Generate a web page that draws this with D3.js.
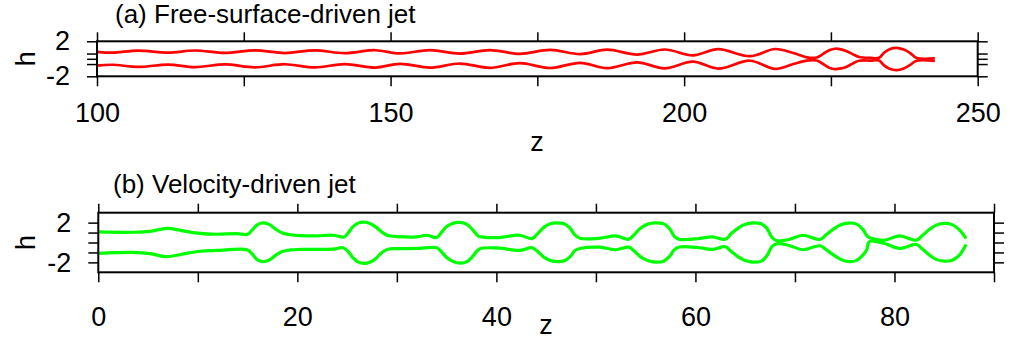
<!DOCTYPE html>
<html lang="en">
<head>
  <meta charset="UTF-8">
  <title>Jet profiles</title>
  <style>
    body { margin: 0; background: #fff; }
    text { font-family: "Liberation Sans", Arial, Helvetica, sans-serif; fill: #000; }
  </style>
</head>
<body>
  <svg id="svg" width="1010" height="343"></svg>

  <script src="https://d3js.org/d3.v7.min.js"></script>
  <script>
    // (a) free-surface-driven jet, [z, h]
    const upperA = [
      [100, 0.80], [102.6, 0.70], [107.0, 0.94], [112.1, 0.70], [116.7, 0.95], [121.8, 0.68],
      [126.9, 0.96], [132.0, 0.66], [137.1, 0.97], [142.2, 0.64], [147.4, 0.98], [151.6, 0.62],
      [156.7, 0.99], [161.8, 0.60], [166.9, 1.00], [172.0, 0.57], [177.2, 1.02], [182.3, 0.53],
      [186.9, 1.04], [192.0, 0.48], [196.7, 1.06], [201.5, 0.40], [205.8, 1.10], [211.2, 0.30],
      [215.5, 1.12], [218.6, 0.66], [220.9, 0.17], [222.6, 0.15], [223.9, 0.66], [224.8, 1.00],
      [225.7, 1.15], [226.7, 1.08], [227.7, 0.86], [228.8, 0.50], [229.8, 0.20], [231.7, 0.10],
      [233.2, 0.12], [234.0, 0.66], [235.0, 1.10], [236.2, 1.25], [237.4, 1.05], [238.5, 0.66],
      [239.6, 0.10], [242.7, 0.05]
    ]
    const lowerA = [
      [100, -0.78], [102.6, -0.68], [107.0, -0.93], [112.1, -0.66], [116.7, -0.95], [121.8, -0.64],
      [126.9, -0.97], [132.0, -0.62], [137.1, -0.98], [142.2, -0.60], [147.4, -1.00], [151.6, -0.57],
      [156.7, -1.01], [161.8, -0.54], [166.9, -1.03], [172.0, -0.50], [177.2, -1.05], [182.3, -0.46],
      [186.9, -1.07], [192.0, -0.41], [196.7, -1.09], [201.5, -0.33], [205.8, -1.12], [211.2, -0.22],
      [215.5, -1.15], [218.6, -0.60], [220.9, -0.20], [222.6, -0.20], [223.9, -0.70], [224.8, -1.05],
      [225.7, -1.18], [226.7, -1.10], [227.7, -0.90], [228.8, -0.50], [229.8, -0.22], [231.7, -0.20],
      [233.2, -0.20], [234.0, -0.72], [235.0, -1.15], [236.2, -1.30], [237.4, -1.10], [238.5, -0.70],
      [239.6, -0.22], [242.7, -0.25]
    ]

    // (b) velocity-driven jet
    const upperB = [
      [0, 1.06], [3.5, 1.03], [5.2, 1.12], [6.9, 1.43], [8.4, 1.20], [10.2, 0.92], [11.9, 0.83],
      [13.9, 0.90], [15.0, 0.82], [15.5, 1.30], [16.0, 1.80], [16.6, 1.97], [17.2, 1.80],
      [17.8, 1.35], [18.5, 0.95], [19.3, 0.78], [20.3, 0.70], [21.9, 0.67], [23.6, 0.73],
      [24.7, 0.55], [25.1, 0.95], [25.6, 1.60], [26.1, 1.95], [26.7, 2.05], [27.3, 1.92],
      [27.9, 1.55], [28.5, 1.05], [29.1, 0.70], [30.0, 0.60], [32.0, 0.57], [33.0, 0.73],
      [34.0, 0.50], [34.5, 1.05], [35.0, 1.60], [35.6, 1.92], [36.3, 2.02], [37.0, 1.85],
      [37.6, 1.30], [38.2, 0.65], [38.8, 0.52], [40.3, 0.50], [42.3, 0.73], [43.6, 0.40],
      [44.2, 0.95], [44.8, 1.55], [45.4, 1.88], [46.1, 1.98], [46.8, 1.88], [47.4, 1.45],
      [47.9, 0.75], [48.4, 0.42], [50.4, 0.43], [52.0, 0.67], [53.3, 0.33], [53.9, 0.85],
      [54.5, 1.45], [55.2, 1.85], [56.0, 1.98], [56.8, 1.88], [57.4, 1.40], [57.9, 0.60],
      [58.4, 0.32], [60.4, 0.40], [61.7, 0.57], [63.0, 0.33], [63.6, 0.90], [64.3, 1.45],
      [65.0, 1.83], [65.8, 1.98], [66.6, 1.88], [67.2, 1.40], [67.7, 0.50], [68.2, 0.17],
      [69.4, 0.30], [70.8, 0.73], [72.5, 0.30], [73.1, 0.75], [73.8, 1.30], [74.6, 1.78],
      [75.4, 1.96], [76.2, 1.85], [76.8, 1.35], [77.3, 0.60], [77.9, 0.36], [79.0, 0.23],
      [80.5, 0.67], [82.2, 0.23], [82.8, 0.70], [83.5, 1.30], [84.2, 1.75], [85.0, 1.92],
      [85.8, 1.80], [86.5, 1.30], [87.2, 0.40]
    ]
    const lowerB = [
      [0, -1.10], [3.5, -1.00], [5.2, -1.12], [6.9, -1.43], [8.4, -1.18], [10.2, -0.88],
      [11.9, -0.80], [15.0, -0.75], [15.5, -1.20], [16.0, -1.75], [16.6, -1.93], [17.2, -1.75],
      [17.8, -1.30], [18.5, -0.90], [19.3, -0.75], [20.3, -0.70], [23.6, -0.67], [24.6, -0.53],
      [25.1, -0.90], [25.6, -1.55], [26.1, -1.95], [26.7, -2.10], [27.3, -1.98], [27.9, -1.60],
      [28.5, -1.00], [29.1, -0.68], [30.0, -0.62], [32.0, -0.60], [34.0, -0.53], [34.5, -0.95],
      [35.0, -1.50], [35.6, -1.88], [36.4, -2.08], [37.1, -1.90], [37.7, -1.30], [38.3, -0.65],
      [40.3, -0.57], [42.3, -0.80], [43.6, -0.53], [44.2, -0.95], [44.8, -1.50], [45.4, -1.80],
      [46.1, -1.92], [46.8, -1.85], [47.4, -1.45], [47.9, -0.80], [48.4, -0.60], [50.4, -0.47],
      [52.0, -0.73], [53.3, -0.47], [53.9, -0.90], [54.5, -1.45], [55.2, -1.82], [56.0, -1.98],
      [56.8, -1.88], [57.4, -1.40], [57.9, -0.70], [58.4, -0.45], [60.4, -0.53], [61.7, -0.70],
      [63.0, -0.43], [63.6, -0.90], [64.3, -1.45], [65.0, -1.82], [65.8, -1.98], [66.6, -1.88],
      [67.2, -1.30], [67.7, -0.40], [68.2, -0.13], [69.4, -0.30], [70.8, -0.73], [72.5, -0.33],
      [73.1, -0.70], [73.8, -1.20], [74.6, -1.70], [75.4, -1.93], [76.2, -1.80], [76.8, -1.30],
      [77.2, -0.75], [77.5, 0.10], [79.0, -0.10], [80.5, -0.60], [82.2, -0.20], [82.8, -0.65],
      [83.5, -1.25], [84.2, -1.70], [85.0, -1.88], [85.8, -1.78], [86.5, -1.30], [87.2, -0.20]
    ]

    const xTicksA = [100, 125, 150, 175, 200, 225, 250]
    const xLabelsA = [100, 150, 200, 250]
    const yTicksA = [-2, -0.6, 0, 0.6, 2]
    const xTicksB = [0, 10, 20, 30, 40, 50, 60, 70, 80, 90]
    const xLabelsB = [0, 20, 40, 60, 80]
    const yTicksB = [-2, -1, 0, 1, 2]
    const yLabels = [-2, 2]

    const svg = d3.select('#svg')

    function panel(cfg) {
      const x = d3.scaleLinear().domain(cfg.xDomain).range([cfg.left, cfg.right])
      const y = d3.scaleLinear().domain(cfg.yDomain).range([cfg.bottom, cfg.top])
      const g = svg.append('g')

      const style = (sel) => {
        sel.select('.domain').remove()
        sel.selectAll('line').attr('stroke', '#000').attr('stroke-width', 1.5)
        sel.selectAll('text').attr('font-size', 27).attr('font-family', null).attr('fill', '#000')
      }

      g.append('g').attr('transform', `translate(0,${cfg.bottom})`)
        .call(d3.axisBottom(x).tickValues(cfg.xTicks).tickSize(10).tickPadding(cfg.xPad)
          .tickFormat(d => cfg.xLabels.includes(d) ? d : ''))
        .call(style)
      g.append('g').attr('transform', `translate(0,${cfg.top})`)
        .call(d3.axisTop(x).tickValues(cfg.xTicks).tickSize(9).tickFormat(''))
        .call(style)
      g.append('g').attr('transform', `translate(${cfg.left},0)`)
        .call(d3.axisLeft(y).tickValues(cfg.yTicks).tickSize(10).tickPadding(17)
          .tickFormat(d => yLabels.includes(d) ? d : ''))
        .call(style)
      g.append('g').attr('transform', `translate(${cfg.right},0)`)
        .call(d3.axisRight(y).tickValues(cfg.yTicks).tickSize(10).tickFormat(''))
        .call(style)

      const line = d3.line()
        .x(d => x(d[0]))
        .y(d => y(d[1]))
        .curve(d3.curveCatmullRom.alpha(0.5))

      g.selectAll('path.jet')
        .data([cfg.upper, cfg.lower])
        .enter()
        .append('path')
        .attr('class', 'jet')
        .attr('d', line)
        .attr('fill', 'none')
        .attr('stroke', cfg.color)
        .attr('stroke-width', cfg.width)
        .attr('stroke-linejoin', 'round')

      g.append('rect')
        .attr('x', cfg.left).attr('y', cfg.top)
        .attr('width', cfg.right - cfg.left).attr('height', cfg.bottom - cfg.top)
        .attr('fill', 'none').attr('stroke', '#000').attr('stroke-width', 2)

      g.append('text')
        .attr('x', cfg.titleX).attr('y', cfg.titleY)
        .attr('font-size', 26)
        .text(cfg.title)

      g.append('text')
        .attr('transform', `translate(26,${(cfg.top + cfg.bottom) / 2}) rotate(-90)`)
        .attr('text-anchor', 'middle')
        .attr('dominant-baseline', 'central')
        .attr('font-size', 27)
        .text('h')

      g.append('text')
        .attr('x', cfg.zX).attr('y', cfg.zY)
        .attr('text-anchor', 'middle')
        .attr('font-size', 27)
        .text('z')
    }

    panel({
      xDomain: [100, 250], yDomain: [-2, 2],
      left: 97, right: 977.7, top: 41.3, bottom: 76.3,
      xTicks: xTicksA, xLabels: xLabelsA, yTicks: yTicksA, xPad: 17,
      upper: upperA, lower: lowerA, color: '#ff0000', width: 2.7,
      title: '(a) Free-surface-driven jet', titleX: 115, titleY: 23,
      zX: 537, zY: 151
    })

    panel({
      xDomain: [0, 90], yDomain: [-3, 3],
      left: 98.3, right: 994, top: 212.7, bottom: 272.3,
      xTicks: xTicksB, xLabels: xLabelsB, yTicks: yTicksB, xPad: 25,
      upper: upperB, lower: lowerB, color: '#00ff00', width: 3.2,
      title: '(b) Velocity-driven jet', titleX: 113, titleY: 193,
      zX: 546, zY: 334
    })
  </script>
</body>
</html>
